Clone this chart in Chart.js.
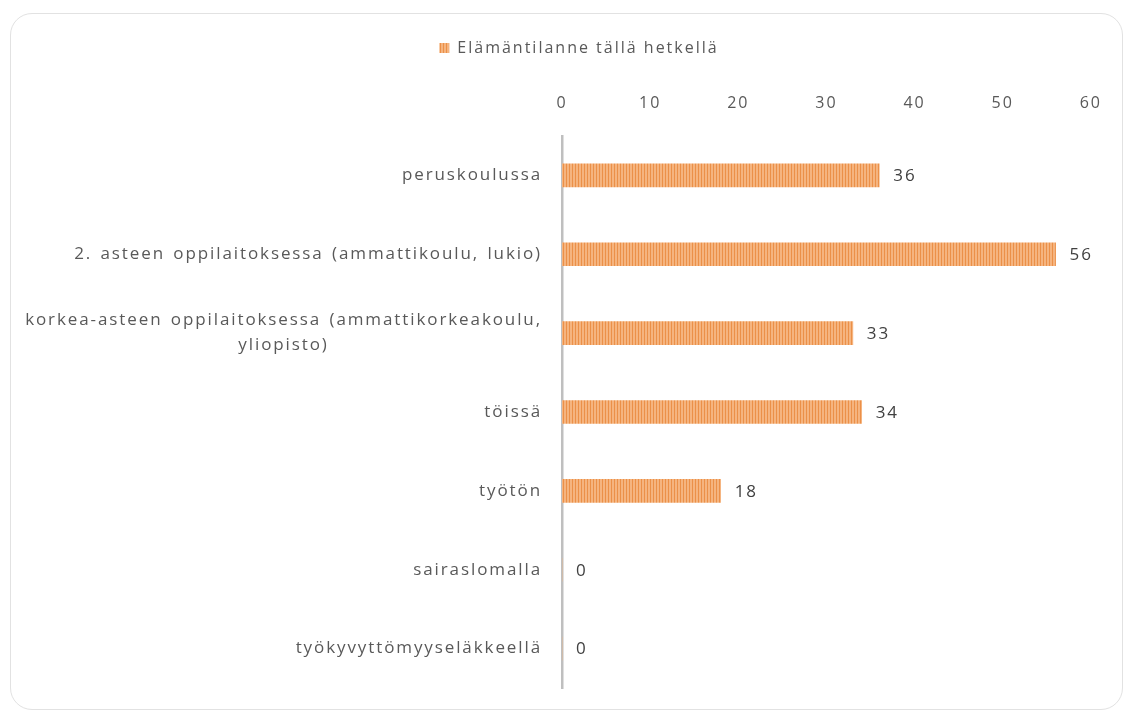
<!DOCTYPE html>
<html>
<head>
<meta charset="utf-8">
<script src="https://cdn.jsdelivr.net/npm/chart.js@4.4.1/dist/chart.umd.min.js"></script>
<style>
  html, body { margin: 0; padding: 0; background: #fff; }
  #wrap { position: relative; width: 1125px; height: 711px; overflow: hidden; }
  #frame {
    position: absolute; left: 10px; top: 13px; width: 1111px; height: 695px;
    border: 1.5px solid #e2e2e2; border-radius: 22px;
  }
  #elama { position: absolute; left: 0; top: 0; }
</style>
</head>
<body>
<div id="wrap">
  <div id="frame"></div>
  <canvas id="elama" width="1125" height="711"></canvas>
</div>
<script>
  const kategoriat = [
    'peruskoulussa',
    '2. asteen oppilaitoksessa (ammattikoulu, lukio)',
    ['korkea-asteen oppilaitoksessa (ammattikorkeakoulu,', 'yliopisto)'],
    'töissä',
    'työtön',
    'sairaslomalla',
    'työkyvyttömyyseläkkeellä'
  ];
  const vastaukset = [36, 56, 33, 34, 18, 0, 0];
  const sarja = 'Elämäntilanne tällä hetkellä';
  const xTicks = [0, 10, 20, 30, 40, 50, 60];

  const fontti = "'Open Sans', 'DejaVu Sans', sans-serif";

  // raidallinen oranssi täyttö
  const pc = document.createElement('canvas');
  pc.width = 3; pc.height = 4;
  const px = pc.getContext('2d');
  px.fillStyle = '#f5b47f';
  px.fillRect(0, 0, 3, 4);
  px.fillStyle = '#eb9048';
  px.fillRect(2, 0, 1, 4);
  const raita = document.getElementById('elama').getContext('2d').createPattern(pc, 'repeat');

  const kirjainvali = {
    id: 'kirjainvali',
    beforeUpdate(chart) { chart.ctx.letterSpacing = '2px'; },
    beforeDraw(chart) { chart.ctx.letterSpacing = '2px'; }
  };

  const nimet = {
    id: 'nimet',
    afterDraw(chart) {
      const ctx = chart.ctx;
      const y = chart.scales.y;
      ctx.save();
      ctx.letterSpacing = '1.9px';
      ctx.wordSpacing = '2px';
      ctx.font = '17px ' + fontti;
      ctx.fillStyle = '#595959';
      ctx.textAlign = 'center';
      ctx.textBaseline = 'middle';
      kategoriat.forEach((k, i) => {
        const rivit = Array.isArray(k) ? k : [k];
        const lev = Math.max(...rivit.map(r => ctx.measureText(r).width));
        const cx = chart.chartArea.left - 20 - lev / 2;
        const cy = y.getPixelForValue(i);
        rivit.forEach((r, j) => {
          ctx.fillText(r, cx, cy + (j - (rivit.length - 1) / 2) * 25);
        });
      });
      // arvot palkkien perään
      const meta = chart.getDatasetMeta(0);
      ctx.textAlign = 'left';
      ctx.fillStyle = '#404040';
      ctx.wordSpacing = '0px';
      meta.data.forEach((bar, i) => {
        ctx.fillText(String(vastaukset[i]), bar.x + 14, bar.y + 1);
      });
      ctx.restore();
    }
  };

  new Chart(document.getElementById('elama'), {
    type: 'bar',
    data: {
      labels: kategoriat,
      datasets: [{
        label: sarja,
        data: vastaukset,
        backgroundColor: raita,
        borderWidth: 0,
        barThickness: 23
      }]
    },
    options: {
      indexAxis: 'y',
      responsive: false,
      animation: false,
      layout: { padding: { left: 65, right: 32, top: 30, bottom: 23 } },
      plugins: {
        tooltip: { enabled: false },
        legend: {
          position: 'top',
          labels: {
            boxWidth: 10,
            boxHeight: 10,
            color: '#595959',
            font: { family: fontti, size: 16 },
            padding: 10
          }
        }
      },
      scales: {
        x: {
          position: 'top',
          min: 0,
          max: 60,
          afterBuildTicks(s) { s.ticks = xTicks.map(v => ({ value: v })); },
          grid: { display: false, drawTicks: false },
          border: { display: false },
          ticks: {
            color: '#595959',
            font: { family: fontti, size: 16 },
            padding: 23
          },
          afterFit(s) { s.height = 70; }
        },
        y: {
          grid: { display: false, drawTicks: false },
          border: { display: true, color: '#bfbfbf', width: 2.5 },
          ticks: { display: false },
          afterFit(s) { s.width = 497; }
        }
      }
    },
    plugins: [kirjainvali, nimet]
  });
</script>
</body>
</html>
